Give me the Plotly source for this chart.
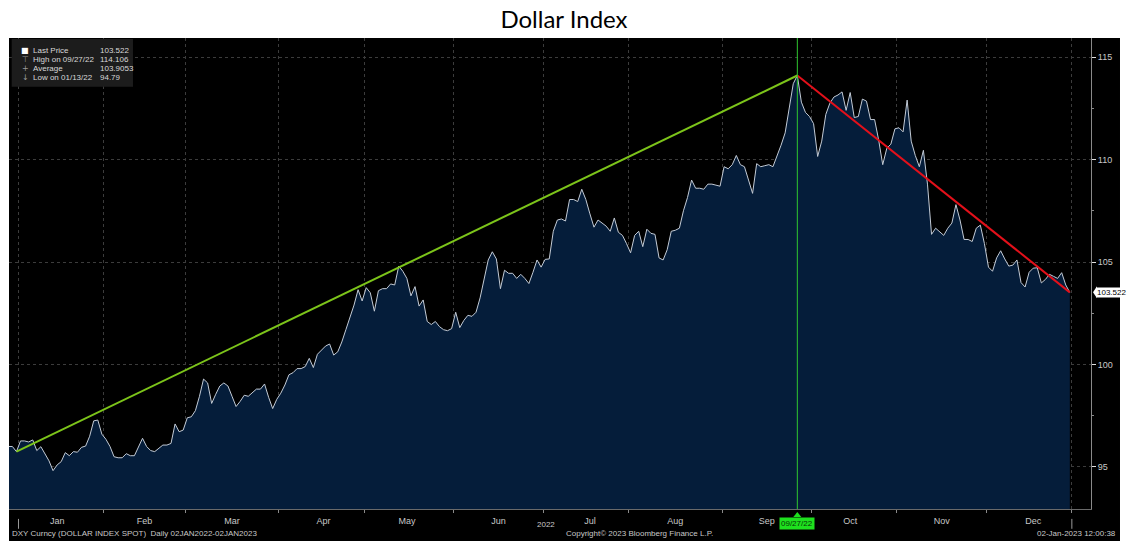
import pandas as pd
import plotly.graph_objects as go

title_text = "Dollar Index"

# trading calendar (weekdays, Dec 26 2022 has no print)
trade_dates = pd.bdate_range("2021-12-29", "2022-12-30")
trade_dates = trade_dates[trade_dates != pd.Timestamp("2022-12-26")]

dxy_close = [
    96.00, 96.00, 95.75,
    96.27, 96.27, 96.22, 96.32, 95.80,
    95.99, 95.67, 95.30, 94.82, 95.10,
    95.26, 95.70, 95.55, 95.75, 95.72,
    95.96, 96.02, 96.50, 97.25, 97.29,
    96.60, 96.35, 96.00, 95.50, 95.45,
    95.45, 95.65, 95.55, 95.55, 96.00,
    96.40, 96.00, 95.80, 95.75, 95.91,
    96.07, 96.07, 96.15, 97.10, 96.72,
    96.80, 97.40, 97.45, 97.75, 98.45,
    99.29, 99.10, 98.10, 98.55, 98.95,
    99.10, 98.95, 98.45, 97.95, 98.20,
    98.50, 98.45, 98.65, 98.80, 98.80,
    99.05, 98.40, 97.85, 98.30, 98.60,
    99.00, 99.50, 99.60, 99.80, 99.80,
    99.90, 100.30, 99.85, 100.50, 100.70,
    100.90, 101.00, 100.46, 100.62, 101.10,
    101.70, 102.30, 102.90, 103.65, 103.10,
    103.75, 103.50, 102.60, 103.60, 103.70,
    103.70, 103.93, 103.88, 104.80, 104.55,
    104.20, 103.35, 103.80, 102.85, 103.15,
    102.10, 101.95, 102.10, 101.85, 101.70,
    101.65, 101.75, 102.55, 101.80, 102.15,
    102.40, 102.35, 102.55, 103.25, 104.15,
    105.10, 105.50, 105.15, 103.70, 104.60,
    104.45, 104.45, 104.20, 104.40, 104.20,
    103.95, 104.50, 105.10, 104.75, 105.13,
    105.15, 106.50, 107.05, 107.10, 107.00,
    108.05, 108.05, 107.95, 108.55, 108.05,
    107.35, 106.70, 107.05, 106.90, 106.75,
    106.50, 107.15, 106.45, 106.30, 105.90,
    105.45, 106.30, 106.50, 105.75, 106.60,
    106.40, 106.35, 105.20, 105.10, 105.60,
    106.50, 106.55, 106.65, 107.50, 108.15,
    109.00, 108.60, 108.60, 108.55, 108.80,
    108.80, 108.75, 108.70, 109.65, 109.55,
    109.75, 110.20, 109.75, 109.65, 109.00,
    108.35, 109.80, 109.65, 109.70, 109.75,
    109.65, 110.15, 110.70, 111.30, 112.50,
    113.70, 114.10, 112.80, 112.30, 112.10,
    111.75, 110.15, 110.90, 112.20, 112.75,
    113.05, 113.15, 113.30, 112.40, 113.27,
    112.05, 112.10, 112.95, 112.85, 111.95,
    111.95, 110.95, 109.75, 110.55, 110.75,
    111.50, 111.55, 111.35, 112.90, 110.90,
    110.20, 109.65, 110.45, 108.80, 106.35,
    106.65, 106.45, 106.30, 106.65, 106.90,
    107.80, 107.05, 106.10, 106.10, 106.00,
    106.65, 106.80, 105.90, 104.75, 104.55,
    105.20, 105.55, 105.15, 104.80, 104.85,
    105.10, 104.00, 103.78, 104.50, 104.70,
    104.72, 103.98, 104.15, 104.40, 104.30,
    104.20, 104.48, 103.88, 103.52,
]

# trend lines
up_trend_dates = ["2021-12-31", "2022-09-27"]
up_trend_values = [95.75, 114.10]
down_trend_dates = ["2022-09-27", "2022-12-30"]
down_trend_values = [114.10, 103.52]

high_date = "2022-09-27"
high_label = "09/27/22"

legend_labels = ["Last Price", "High on 09/27/22", "Average", "Low on 01/13/22"]
legend_values = ["103.522", "114.106", "103.9053", "94.79"]
legend_icons = ["\u25A0", "\u22A4", "+", "\u2193"]
last_price = 103.522

y_ticks = [95, 100, 105, 110, 115]

half_day = pd.Timedelta(hours=12)
plot_dates = trade_dates + half_day


def mid(d):
    return (pd.Timestamp(d) + half_day).strftime("%Y-%m-%d %H:%M")


fig = go.Figure()

fig.add_trace(go.Scatter(
    x=plot_dates, y=dxy_close, mode="lines",
    line=dict(color="#c3cbd6", width=1),
    fill="tozeroy", fillcolor="#051d3a",
    hoverinfo="x+y", showlegend=False,
))
fig.add_trace(go.Scatter(
    x=[mid(d) for d in up_trend_dates], y=up_trend_values, mode="lines",
    line=dict(color="#7cc41a", width=2), showlegend=False,
))
fig.add_trace(go.Scatter(
    x=[mid(d) for d in down_trend_dates], y=down_trend_values, mode="lines",
    line=dict(color="#e3101a", width=2), showlegend=False,
))

txt_color = "#c8c8c8"
small_font = dict(family="Liberation Sans, Arial, sans-serif", size=8, color=txt_color)

shapes = [
    # black bloomberg panel
    dict(type="rect", xref="paper", yref="paper", x0=0, x1=1.0268, y0=-0.1, y1=1,
         fillcolor="black", line=dict(width=0), layer="below"),
    # high marker line
    dict(type="line", xref="x", yref="paper", x0=mid(high_date), x1=mid(high_date), y0=0, y1=1,
         line=dict(color="#2fc62f", width=1)),
    # marker triangle under the axis
    dict(type="path", xref="x", yref="paper", xsizemode="pixel", ysizemode="pixel",
         xanchor=mid(high_date), yanchor=0, path="M -4,-8 L 4,-8 L 0,-3 Z",
         fillcolor="#1ee01e", line=dict(width=0)),
    # year separators
    dict(type="line", xref="x", yref="paper", x0="2022-01-03", x1="2022-01-03",
         y0=-0.021, y1=-0.042, line=dict(color="#9a9a9a", width=1)),
    dict(type="line", xref="x", yref="paper", x0="2023-01-02", x1="2023-01-02",
         y0=-0.021, y1=-0.042, line=dict(color="#9a9a9a", width=1)),
    # legend box
    dict(type="rect", xref="paper", yref="paper", x0=0.0025, x1=0.1146, y0=0.8966, y1=0.998,
         fillcolor="#1c1c1c", line=dict(width=0)),
    # last price pointer
    dict(type="path", xref="paper", yref="y", xsizemode="pixel", ysizemode="pixel",
         xanchor=1, yanchor=last_price, path="M 2,0 L 6,-6 L 6,6 Z",
         fillcolor="white", line=dict(width=0)),
]

annotations = []
row_y = [0.9745, 0.9548, 0.9348, 0.9166]
for icon, lab, val, yy in zip(legend_icons, legend_labels, legend_values, row_y):
    annotations.append(dict(xref="paper", yref="paper", x=0.0150, y=yy, text=icon,
                            showarrow=False, xanchor="center", yanchor="middle",
                            font=dict(family="DejaVu Sans", size=8,
                                      color="white" if icon == "\u25A0" else "#9a9a9a")))
    annotations.append(dict(xref="paper", yref="paper", x=0.0201, y=yy, text=lab,
                            showarrow=False, xanchor="left", yanchor="middle",
                            font=dict(family="Liberation Sans, Arial", size=8, color="#d8d8d8")))
    annotations.append(dict(xref="paper", yref="paper", x=0.0825, y=yy, text=val,
                            showarrow=False, xanchor="left", yanchor="middle",
                            font=dict(family="Liberation Sans, Arial", size=8, color="#d8d8d8")))

annotations += [
    dict(xref="x", yref="paper", x=mid(high_date), y=-0.031, text=high_label,
         showarrow=False, xanchor="center", yanchor="middle", bgcolor="#1ee01e",
         borderpad=1, font=dict(family="Liberation Sans, Arial", size=8, color="#063806")),
    dict(xref="paper", yref="y", x=1, xshift=5, y=last_price, text=f"{last_price:.3f}",
         showarrow=False, xanchor="left", yanchor="middle", bgcolor="white",
         borderpad=0, font=dict(family="Liberation Sans, Arial", size=8, color="black")),
    dict(xref="paper", yref="paper", x=0.496, y=-0.032, text="2022", showarrow=False,
         xanchor="center", yanchor="middle", font=small_font),
    dict(xref="paper", yref="paper", x=0.001, y=-0.053,
         text="DXY Curncy (DOLLAR INDEX SPOT)  Daily 02JAN2022-02JAN2023",
         showarrow=False, xanchor="left", yanchor="middle", font=small_font),
    dict(xref="paper", yref="paper", x=0.583, y=-0.053,
         text="Copyright\u00a9 2023 Bloomberg Finance L.P.",
         showarrow=False, xanchor="center", yanchor="middle", font=small_font),
    dict(xref="paper", yref="paper", x=1.025, y=-0.053, text="02-Jan-2023 12:00:38",
         showarrow=False, xanchor="right", yanchor="middle", font=small_font),
]

fig.update_layout(
    width=1128, height=541,
    margin=dict(l=9, r=37, t=38, b=32),
    paper_bgcolor="white", plot_bgcolor="black",
    title=dict(text=title_text, x=0.5, xanchor="center", y=0.963, yanchor="middle",
               font=dict(family="Lato, Open Sans, sans-serif", size=24, color="black")),
    shapes=shapes, annotations=annotations, showlegend=False,
)

fig.update_xaxes(
    type="date",
    range=["2021-12-29 16:00", "2023-01-06 17:00"],
    rangebreaks=[dict(bounds=["sat", "mon"]), dict(values=["2022-12-26"])],
    dtick="M1", tick0="2022-01-01", tickformat="%b", ticklabelmode="period",
    ticks="outside", ticklen=3, tickcolor="#8a8a8a",
    showgrid=True, gridcolor="#3c3c3c", griddash="dot", gridwidth=1,
    showline=True, linecolor="#6a6a6a", linewidth=1,
    tickfont=dict(family="Liberation Sans, Arial", size=9, color=txt_color),
    zeroline=False,
)

fig.update_yaxes(
    side="right", range=[92.95, 115.93],
    tickvals=y_ticks, ticktext=[str(v) for v in y_ticks],
    ticks="outside", ticklen=4, tickcolor="#e0e0e0",
    minor=dict(dtick=2.5, tick0=95, ticks="outside", ticklen=2, tickcolor="#8a8a8a", showgrid=False),
    showgrid=True, gridcolor="#3c3c3c", griddash="dot", gridwidth=1,
    showline=True, linecolor="#8a8a8a", linewidth=1,
    tickfont=dict(family="Liberation Sans, Arial", size=9, color=txt_color),
    zeroline=False,
)

fig.write_html("out.html", config={"displayModeBar": False},
               post_script="document.body.style.margin='0';")
